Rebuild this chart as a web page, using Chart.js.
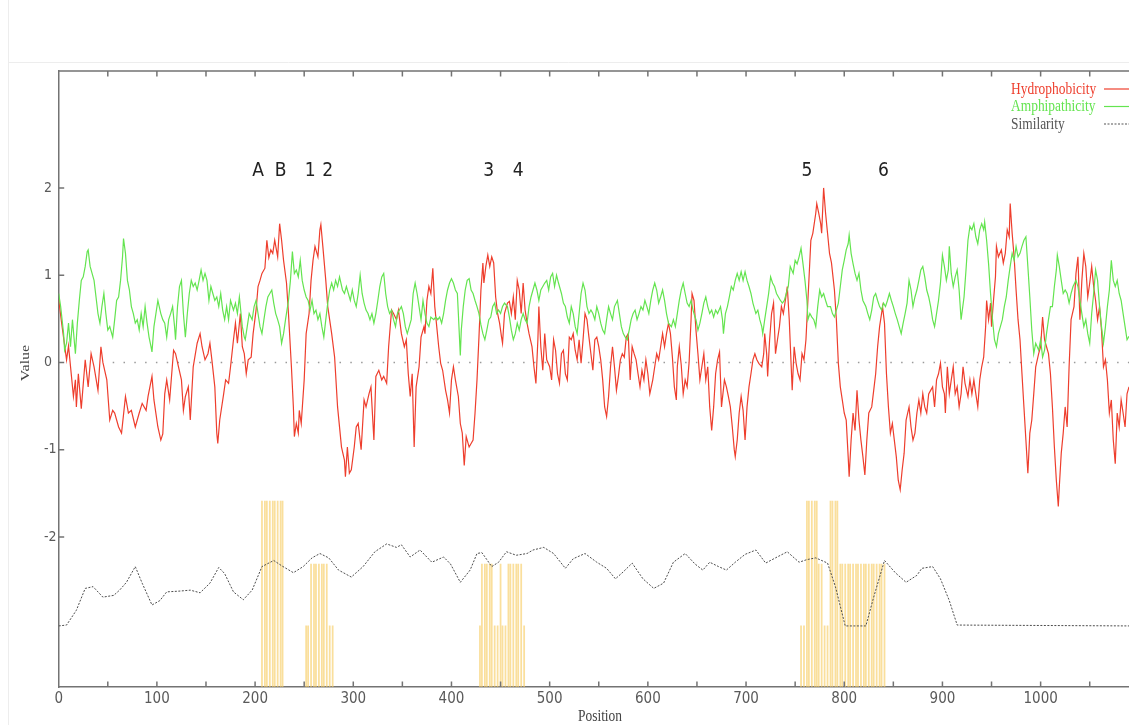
<!DOCTYPE html>
<html>
<head>
<meta charset="utf-8">
<title>Profil de séquence</title>
<script src="https://cdn.jsdelivr.net/npm/chart.js@4.4.0/dist/chart.umd.min.js"></script>
<style>
    html, body { margin: 0; padding: 0; background: #fff; }
    #wrap { position: relative; width: 1129px; height: 725px; }
</style>
</head>
<body>
<div id="wrap"><canvas id="profile-chart" width="1129" height="725"></canvas></div>
<script>
// Axes
const positionTicks = [0, 100, 200, 300, 400, 500, 600, 700, 800, 900, 1000];
const valueTicks = [-2, -1, 0, 1, 2];
const positionMax = 1090;
const valueMin = -3.72;
const valueMax = 3.34;

// Profil d'hydrophobicité [position, valeur]
const hydrophobicity = [
    [0,0.72],[3,0.45],[8,0.03],[10,0.19],[15,-0.39],[17,-0.2],[18,-0.51],[20,-0.13],[23,-0.53],[27,0.03],
    [30,-0.28],[33,0.1],[36,-0.05],[40,-0.32],[43,0.18],[45,0],[49,-0.2],[52,-0.66],[55,-0.55],[57,-0.58],
    [61,-0.74],[64,-0.81],[68,-0.39],[71,-0.58],[74,-0.55],[78,-0.74],[82,-0.58],[85,-0.47],[89,-0.55],[91,-0.39],
    [95,-0.16],[97,-0.43],[101,-0.74],[104,-0.89],[106,-0.82],[108,-0.36],[110,-0.2],[113,-0.43],[117,0.14],[119,0.1],
    [122,-0.05],[125,-0.2],[127,-0.55],[129,-0.39],[132,-0.28],[134,-0.66],[137,-0.05],[141,0.22],[144,0.33],[146,0.18],
    [149,0.03],[152,0.1],[154,0.22],[156,0.03],[159,-0.28],[161,-0.81],[162,-0.93],[164,-0.66],[168,-0.36],[170,-0.2],
    [173,-0.24],[175,-0.05],[178,0.26],[180,0.45],[182,0.22],[185,0.56],[187,0.18],[189,0.1],[191,-0.13],[193,0.03],
    [196,0.06],[198,0.33],[201,0.6],[203,0.87],[205,0.94],[207,1.02],[210,1.08],[212,1.4],[214,1.2],[216,1.29],
    [218,1.25],[220,1.4],[223,1.21],[225,1.59],[227,1.4],[229,1.17],[232,0.91],[234,0.56],[237,-0.05],[239,-0.51],
    [240,-0.85],[242,-0.7],[244,-0.81],[245,-0.55],[247,-0.7],[250,-0.2],[252,0.33],[255,0.56],[257,0.94],[259,1.17],
    [261,1.33],[262,1.29],[264,1.21],[266,1.52],[267,1.58],[269,1.33],[272,0.94],[274,0.64],[278,0.33],[281,0.06],
    [284,-0.51],[288,-0.97],[291,-1.12],[292,-1.31],[294,-0.97],[296,-1.27],[298,-1.23],[301,-0.97],[303,-0.74],[305,-0.7],
    [308,-1.0],[311,-0.43],[313,-0.51],[316,-0.36],[318,-0.28],[321,-0.89],[323,-0.16],[326,-0.09],[329,-0.2],[331,-0.16],
    [334,-0.24],[336,0.18],[339,0.6],[341,0.56],[344,0.49],[346,0.6],[349,0.33],[352,0.18],[354,0.26],[356,-0.13],
    [358,-0.39],[360,-0.13],[362,-0.97],[364,-0.28],[367,-0.05],[369,0.29],[372,0.41],[373,0.33],[375,0.71],[377,0.87],
    [379,0.79],[381,1.08],[383,0.64],[385,0.41],[387,0.18],[389,-0.01],[391,-0.09],[394,-0.32],[396,-0.43],[398,-0.58],
    [400,-0.2],[402,-0.05],[404,-0.2],[407,-0.39],[409,-0.7],[411,-0.81],[413,-1.18],[415,-0.85],[418,-0.97],[420,-0.93],
    [422,-0.89],[424,-0.58],[426,-0.2],[428,0.29],[430,0.83],[432,1.14],[433,0.91],[435,1.1],[437,1.23],[439,1.1],
    [441,1.21],[443,1.14],[445,0.75],[447,0.56],[449,0.45],[451,0.29],[452,0.22],[454,0.56],[457,0.68],[459,0.7],
    [461,0.56],[463,0.75],[465,0.49],[467,0.94],[469,0.83],[471,0.56],[473,0.91],[475,0.6],[477,0.45],[479,0.33],
    [482,0.18],[484,-0.05],[486,-0.24],[488,0.26],[489,0.64],[491,0.18],[493,-0.09],[495,0.33],[497,0.03],[500,-0.05],
    [502,-0.2],[504,0.26],[506,0.14],[508,-0.13],[510,-0.24],[512,0.1],[514,0.14],[516,-0.13],[518,-0.2],[520,0.29],
    [522,0.26],[524,0.33],[526,0.14],[528,0.03],[530,0.26],[532,-0.01],[534,0.26],[536,0.56],[538,0.49],[540,0.29],
    [542,0.1],[544,-0.09],[546,0.26],[548,0.29],[550,0.18],[552,0.03],[554,-0.2],[556,-0.51],[558,-0.62],[560,-0.39],
    [562,-0.05],[564,0.18],[566,-0.05],[568,-0.32],[570,-0.16],[572,0.03],[574,0.1],[576,0.06],[578,0.29],[580,0.33],
    [582,-0.2],[584,0.18],[586,0.1],[588,0.03],[590,-0.13],[592,-0.28],[594,-0.09],[596,-0.2],[598,0.03],[600,-0.13],
    [602,-0.36],[605,-0.2],[607,-0.05],[609,0.1],[611,0.03],[613,0.18],[615,0.33],[617,0.18],[619,0.33],[621,0.45],
    [623,0.33],[625,0.06],[627,-0.28],[629,-0.43],[630,-0.05],[632,0.18],[634,-0.03],[636,-0.36],[638,-0.2],[640,-0.28],
    [642,0],[644,0.49],[645,0.79],[647,0.71],[649,0.37],[651,0.1],[653,-0.2],[655,-0.05],[657,0.1],[659,-0.2],
    [661,-0.05],[663,-0.51],[665,-0.78],[667,-0.51],[669,-0.13],[671,0.03],[673,0.12],[675,-0.51],[678,-0.2],[680,-0.28],
    [682,-0.39],[684,-0.51],[686,-0.74],[688,-1.0],[689,-1.08],[691,-0.89],[693,-0.58],[695,-0.39],[697,-0.55],[699,-0.89],
    [701,-0.51],[703,-0.28],[705,-0.13],[707,0.03],[709,0.1],[711,0.03],[713,-0.01],[716,-0.05],[718,0.1],[719,0.33],
    [721,0.1],[722,-0.16],[724,0.26],[726,0.56],[728,0.68],[730,0.1],[732,0.26],[734,0.41],[736,0.64],[738,0.56],
    [740,0.71],[742,0.87],[744,0.49],[746,-0.05],[747,-0.32],[749,0.18],[751,-0.01],[753,-0.13],[755,-0.2],[757,0.1],
    [759,0.03],[761,0.26],[762,0.49],[764,0.94],[766,1.4],[768,1.48],[771,1.71],[772,1.82],[774,1.71],[776,1.59],
    [777,1.48],[779,2.0],[781,1.71],[783,1.48],[785,1.25],[787,1.14],[790,0.83],[792,0.49],[794,-0.01],[796,-0.28],
    [798,-0.43],[800,-0.58],[802,-0.66],[804,-1.08],[805,-1.31],[807,-0.89],[809,-0.58],[811,-0.78],[813,-0.32],[815,-0.66],
    [817,-0.89],[819,-1.08],[821,-1.29],[823,-0.89],[825,-0.58],[828,-0.51],[830,-0.32],[832,-0.13],[834,0.18],[836,0.41],
    [838,0.56],[839,0.64],[841,0.45],[843,-0.13],[845,-0.51],[847,-0.81],[849,-0.7],[851,-0.89],[853,-1.08],[855,-1.35],
    [857,-1.46],[859,-1.23],[861,-1.04],[863,-0.66],[866,-0.51],[868,-0.74],[870,-0.89],[872,-0.81],[874,-0.58],[876,-0.43],
    [878,-0.58],[880,-0.36],[882,-0.51],[884,-0.58],[886,-0.36],[888,-0.32],[890,-0.28],[892,-0.51],[894,-0.2],[896,-0.13],
    [898,-0.01],[900,-0.28],[902,-0.36],[903,-0.58],[905,-0.05],[907,-0.36],[909,-0.2],[911,-0.05],[913,-0.36],[915,-0.28],
    [917,-0.51],[919,-0.36],[921,-0.05],[923,-0.24],[926,-0.39],[928,-0.2],[930,-0.36],[932,-0.2],[934,-0.36],[936,-0.51],
    [938,-0.2],[940,-0.05],[942,0.06],[944,0.41],[945,0.71],[947,0.49],[949,0.68],[950,0.41],[952,0.71],[954,0.98],
    [955,1.33],[957,1.21],[960,1.29],[962,1.14],[964,1.25],[966,1.52],[968,1.44],[969,1.82],[971,1.48],[973,1.21],
    [975,0.83],[977,0.49],[979,0.26],[981,-0.13],[983,-0.51],[985,-0.89],[987,-1.27],[989,-0.81],[991,-0.66],[993,-0.36],
    [995,-0.05],[998,0.1],[1000,0.18],[1002,0.52],[1004,0.26],[1006,0.18],[1008,0.1],[1010,-0.13],[1012,-0.51],[1014,-0.97],
    [1016,-1.35],[1018,-1.65],[1019,-1.43],[1021,-1.04],[1023,-0.81],[1025,-0.51],[1027,-0.74],[1029,-0.05],[1031,0.49],[1034,0.64],
    [1036,1.02],[1038,1.21],[1040,0.49],[1042,0.94],[1044,1.25],[1046,1.1],[1048,0.75],[1050,0.91],[1052,1.1],[1054,0.87],
    [1056,0.71],[1058,0.49],[1060,0.64],[1062,0.37],[1064,-0.05],[1066,0.03],[1068,-0.2],[1070,-0.58],[1072,-0.43],[1074,-0.89],
    [1076,-1.16],[1078,-0.58],[1080,-0.74],[1082,-0.43],[1084,-0.58],[1086,-0.74],[1088,-0.36],[1090,-0.28]
];

// Profil d'amphipathicité [position, valeur]
const amphipathicity = [
    [0,0.79],[2,0.64],[5,0.33],[6,0.14],[8,0.22],[10,0.45],[12,0.18],[14,0.49],[17,0.1],[19,0.45],
    [21,0.71],[23,0.94],[25,0.98],[27,1.1],[29,1.27],[30,1.29],[32,1.1],[34,1.02],[36,0.94],[38,0.75],
    [40,0.56],[42,0.45],[44,0.64],[46,0.79],[48,0.56],[50,0.37],[52,0.41],[55,0.29],[57,0.49],[59,0.71],
    [61,0.75],[63,0.94],[65,1.21],[66,1.42],[68,1.25],[70,0.94],[72,0.83],[74,0.64],[76,0.56],[78,0.45],
    [80,0.49],[82,0.37],[84,0.56],[86,0.41],[88,0.64],[90,0.45],[92,0.29],[94,0.18],[95,0.12],[97,0.41],
    [99,0.56],[101,0.71],[104,0.56],[106,0.49],[108,0.45],[110,0.29],[112,0.49],[114,0.56],[116,0.64],[118,0.41],
    [119,0.26],[121,0.64],[123,0.87],[125,0.94],[127,0.56],[129,0.29],[131,0.56],[133,0.79],[135,0.94],[137,0.87],
    [139,0.91],[141,0.83],[143,0.94],[145,1.06],[147,0.94],[149,1.02],[151,0.94],[153,0.71],[155,0.87],[157,0.79],
    [159,0.71],[161,0.75],[163,0.64],[165,0.79],[167,0.6],[169,0.49],[171,0.64],[173,0.49],[175,0.71],[178,0.6],
    [180,0.68],[182,0.56],[184,0.75],[185,0.64],[187,0.41],[189,0.29],[190,0.26],[192,0.41],[194,0.56],[197,0.49],
    [199,0.64],[201,0.71],[203,0.56],[205,0.41],[207,0.33],[209,0.49],[211,0.64],[213,0.75],[215,0.79],[217,0.83],
    [219,0.68],[221,0.56],[223,0.49],[225,0.41],[227,0.22],[229,0.33],[231,0.49],[234,0.71],[236,0.94],[238,1.27],
    [240,1.02],[242,1.06],[244,0.98],[246,1.17],[248,0.94],[250,0.83],[252,0.75],[254,0.71],[256,0.6],[258,0.71],
    [260,0.56],[262,0.6],[264,0.49],[266,0.56],[268,0.41],[270,0.29],[272,0.49],[274,0.68],[276,0.83],[278,0.91],
    [280,0.83],[282,0.94],[284,0.87],[286,0.98],[289,0.83],[291,0.79],[293,0.87],[295,0.79],[297,0.71],[299,0.83],
    [301,0.71],[303,0.64],[305,0.79],[307,1.0],[309,0.79],[311,0.68],[313,0.6],[315,0.56],[317,0.49],[319,0.56],
    [321,0.45],[323,0.56],[325,0.71],[327,0.87],[329,0.98],[331,1.02],[333,0.79],[335,0.64],[337,0.56],[339,0.6],
    [341,0.49],[343,0.41],[345,0.56],[347,0.6],[349,0.64],[351,0.56],[353,0.41],[355,0.33],[357,0.41],[359,0.49],
    [361,0.79],[363,0.91],[365,0.79],[367,0.64],[369,0.49],[371,0.71],[373,0.56],[375,0.45],[377,0.41],[379,0.52],
    [382,0.49],[384,0.52],[386,0.49],[388,0.52],[390,0.45],[392,0.56],[394,0.71],[396,0.83],[398,0.91],[400,0.96],
    [402,0.91],[404,0.83],[406,0.79],[407,0.56],[409,0.08],[410,0.37],[412,0.64],[414,0.83],[416,0.94],[418,0.96],
    [420,0.83],[422,0.79],[424,0.71],[426,0.64],[428,0.56],[430,0.43],[432,0.33],[434,0.26],[436,0.37],[438,0.49],
    [440,0.52],[442,0.64],[444,0.68],[446,0.56],[448,0.6],[450,0.56],[452,0.64],[454,0.68],[457,0.64],[459,0.52],
    [461,0.37],[463,0.26],[465,0.33],[467,0.45],[469,0.37],[471,0.49],[473,0.56],[475,0.49],[477,0.45],[479,0.64],
    [481,0.75],[483,0.83],[485,0.91],[487,0.83],[489,0.71],[491,0.83],[493,0.87],[495,0.91],[497,0.94],[499,0.83],
    [501,0.98],[503,1.02],[505,0.87],[507,1.0],[509,0.91],[512,0.79],[514,0.68],[516,0.64],[518,0.52],[520,0.45],
    [522,0.64],[524,0.56],[526,0.41],[528,0.33],[530,0.56],[532,0.79],[534,0.91],[536,0.83],[538,0.64],[540,0.56],
    [542,0.6],[544,0.56],[546,0.49],[548,0.64],[550,0.56],[552,0.45],[554,0.37],[556,0.33],[558,0.49],[560,0.64],
    [562,0.56],[564,0.49],[566,0.64],[569,0.71],[571,0.56],[573,0.41],[575,0.33],[577,0.29],[579,0.26],[581,0.37],
    [583,0.49],[585,0.56],[587,0.6],[589,0.49],[591,0.56],[593,0.64],[595,0.6],[597,0.71],[599,0.64],[601,0.56],
    [603,0.71],[605,0.83],[607,0.91],[609,0.83],[611,0.68],[613,0.75],[615,0.83],[617,0.71],[619,0.56],[621,0.45],
    [624,0.41],[626,0.49],[628,0.41],[630,0.56],[632,0.71],[634,0.83],[636,0.91],[638,0.79],[640,0.68],[642,0.64],
    [644,0.71],[646,0.6],[648,0.52],[649,0.49],[651,0.37],[653,0.45],[655,0.56],[657,0.68],[659,0.75],[661,0.64],
    [663,0.56],[665,0.6],[667,0.52],[669,0.6],[671,0.56],[674,0.64],[676,0.49],[677,0.33],[679,0.56],[681,0.64],
    [683,0.75],[685,0.87],[687,0.83],[689,0.94],[691,1.02],[693,0.94],[695,1.04],[697,0.94],[699,1.04],[701,0.94],
    [703,0.87],[705,0.79],[707,0.68],[710,0.56],[712,0.6],[714,0.49],[716,0.41],[717,0.33],[719,0.49],[721,0.64],
    [723,0.79],[725,0.98],[727,0.91],[729,0.87],[731,0.79],[733,0.75],[735,0.71],[737,0.68],[739,0.71],[741,0.79],
    [743,0.87],[745,1.1],[748,1.02],[750,1.17],[752,1.13],[754,1.21],[756,1.31],[758,1.13],[760,0.94],[762,0.71],
    [763,0.49],[765,0.56],[767,0.52],[769,0.49],[771,0.41],[773,0.64],[775,0.83],[777,0.75],[779,0.79],[781,0.71],
    [783,0.64],[786,0.64],[788,0.56],[790,0.52],[792,0.6],[794,0.68],[796,0.87],[798,1.06],[800,1.17],[802,1.29],
    [804,1.36],[805,1.46],[807,1.25],[809,1.13],[811,1.02],[813,0.94],[815,1.02],[817,0.83],[819,0.71],[822,0.64],
    [824,0.56],[826,0.49],[828,0.6],[830,0.75],[832,0.79],[834,0.71],[836,0.64],[838,0.6],[840,0.68],[842,0.64],
    [844,0.71],[846,0.79],[848,0.71],[850,0.64],[852,0.56],[854,0.49],[856,0.41],[858,0.33],[860,0.45],[862,0.56],
    [864,0.68],[866,0.94],[868,0.83],[870,0.64],[872,0.75],[874,0.83],[876,0.94],[878,1.06],[880,1.1],[882,0.98],
    [884,0.83],[886,0.75],[888,0.64],[890,0.49],[892,0.41],[894,0.56],[896,0.71],[898,0.91],[900,1.23],[902,1.1],
    [904,0.94],[906,1.06],[907,1.33],[909,1.02],[911,0.87],[913,0.98],[915,1.06],[917,0.83],[919,0.49],[922,0.75],
    [924,1.06],[926,1.4],[928,1.56],[930,1.52],[932,1.59],[934,1.44],[936,1.36],[938,1.52],[940,1.59],[942,1.52],
    [943,1.61],[945,1.4],[947,1.13],[949,0.79],[951,0.49],[953,0.26],[955,0.18],[957,0.33],[959,0.41],[961,0.49],
    [963,0.64],[965,0.75],[967,0.94],[969,1.1],[971,1.25],[973,1.17],[975,1.33],[977,1.21],[979,1.25],[981,1.33],
    [983,1.4],[985,1.44],[987,1.1],[989,0.75],[991,0.37],[993,0.1],[995,0.22],[998,0.14],[1000,0.26],[1002,0.06],
    [1004,0.14],[1006,0.33],[1008,0.49],[1010,0.64],[1012,0.64],[1014,0.87],[1016,1.06],[1017,1.23],[1019,1.1],[1021,0.94],
    [1023,0.79],[1025,0.83],[1027,0.79],[1029,0.68],[1031,0.79],[1033,0.87],[1036,0.94],[1038,0.87],[1040,0.71],[1042,0.56],
    [1044,0.41],[1046,0.49],[1048,0.33],[1050,0.22],[1052,0.56],[1054,0.79],[1056,1.06],[1058,0.94],[1060,0.64],[1062,0.41],
    [1064,0.22],[1066,0.41],[1068,0.64],[1070,0.83],[1072,1.17],[1074,0.94],[1076,0.87],[1078,0.94],[1080,0.79],[1082,0.71],
    [1084,0.56],[1086,0.41],[1088,0.26],[1090,0.3]
];

// Similarité (tracée sur la même échelle, en bas du graphique)
const similarity = [
    [0,-3.02],[8,-3.01],[18,-2.84],[27,-2.59],[35,-2.57],[45,-2.69],[56,-2.67],[62,-2.61],[69,-2.52],[78,-2.34],
    [85,-2.53],[95,-2.78],[103,-2.73],[110,-2.63],[124,-2.62],[134,-2.61],[144,-2.64],[154,-2.53],[163,-2.35],[169,-2.42],
    [178,-2.63],[188,-2.72],[197,-2.61],[207,-2.34],[219,-2.27],[227,-2.33],[239,-2.41],[249,-2.34],[258,-2.24],[266,-2.19],
    [275,-2.24],[285,-2.38],[298,-2.46],[310,-2.34],[322,-2.17],[334,-2.08],[344,-2.12],[349,-2.09],[358,-2.23],[368,-2.15],
    [380,-2.29],[392,-2.23],[399,-2.31],[409,-2.52],[419,-2.38],[426,-2.19],[431,-2.18],[441,-2.34],[448,-2.29],[456,-2.17],
    [466,-2.21],[477,-2.19],[483,-2.15],[494,-2.12],[504,-2.19],[516,-2.36],[524,-2.25],[536,-2.19],[548,-2.29],[558,-2.36],
    [567,-2.48],[575,-2.4],[584,-2.3],[595,-2.48],[606,-2.59],[616,-2.53],[626,-2.29],[638,-2.19],[648,-2.31],[656,-2.38],
    [663,-2.29],[672,-2.34],[680,-2.38],[689,-2.29],[699,-2.2],[710,-2.15],[720,-2.3],[730,-2.24],[742,-2.17],[754,-2.29],
    [762,-2.26],[771,-2.24],[783,-2.3],[791,-2.57],[801,-3.02],[822,-3.02],[830,-2.69],[841,-2.27],[852,-2.41],[863,-2.52],
    [874,-2.44],[879,-2.36],[890,-2.34],[898,-2.48],[907,-2.73],[915,-3.01],[1090,-3.02]
];

// Segments conservés (impulsions jaunes) et leur hauteur
const impulseTall = [207, 210, 212, 215, 218, 220, 223, 226, 228, 762, 764, 767, 770, 772, 786, 788, 791, 793];
const impulseMid = [257, 260, 262, 265, 268, 270, 273, 431, 434, 436, 439, 441, 450, 458, 460, 463, 466, 468, 471,
    774, 777, 796, 798, 801, 804, 806, 809, 812, 814, 817, 820, 822, 825, 828, 830, 833, 836, 838, 841];
const impulseLow = [252, 254, 276, 279, 429, 444, 447, 452, 455, 474, 756, 759, 780, 783];
const levelTall = -1.59;
const levelMid = -2.31;
const levelLow = -3.02;

// Repères de sites
const siteLabels = ['A', 'B', '1', '2', '3', '4', '5', '6'];
const sitePositions = [203, 226, 256, 274, 438, 468, 762, 840];
const siteLevel = 2.14;

// Légende
const legendLabels = ['Hydrophobicity', 'Amphipathicity', 'Similarity'];

const RED = 'rgb(238, 62, 45)';
const GREEN = 'rgb(100, 228, 80)';
const GREY = '#555';
const AXIS = '#737373';
const SANS_NARROW = "'Liberation Sans Narrow', 'DejaVu Sans Condensed', sans-serif";
const SERIF = "'Liberation Serif', 'DejaVu Serif', serif";

function toPoints(pairs) {
    return pairs.map(p => ({ x: p[0], y: p[1] }));
}

// Texte légèrement resserré horizontalement
function narrowText(ctx, text, x, y, align, squeeze) {
    ctx.save();
    ctx.translate(x, y);
    ctx.scale(squeeze, 1);
    ctx.textAlign = align;
    ctx.fillText(text, 0, 0);
    ctx.restore();
}

// Cadre, graduations intérieures, ligne du zéro
const framePlugin = {
    id: 'frame',
    beforeDraw(chart) {
        const ctx = chart.ctx;
        ctx.save();
        ctx.strokeStyle = '#ededed';
        ctx.lineWidth = 1;
        ctx.beginPath();
        ctx.moveTo(8.5, 0);
        ctx.lineTo(8.5, chart.height);
        ctx.moveTo(8.5, 62.5);
        ctx.lineTo(chart.width, 62.5);
        ctx.stroke();
        ctx.restore();
    },
    beforeDatasetsDraw(chart) {
        const { ctx, chartArea, scales } = chart;
        const y0 = scales.y.getPixelForValue(0);
        ctx.save();
        ctx.strokeStyle = '#9a9a9a';
        ctx.lineWidth = 1.5;
        ctx.setLineDash([1.5, 9.3]);
        ctx.beginPath();
        ctx.moveTo(scales.x.getPixelForValue(55), y0);
        ctx.lineTo(chartArea.right, y0);
        ctx.stroke();
        ctx.restore();
    },
    afterDatasetsDraw(chart) {
        const { ctx, chartArea, scales } = chart;
        const tick = 5.5;
        ctx.save();
        ctx.strokeStyle = AXIS;
        ctx.lineWidth = 1.5;
        ctx.beginPath();
        // bord supérieur
        ctx.moveTo(chartArea.left, chartArea.top);
        ctx.lineTo(chartArea.right, chartArea.top);
        // graduations haut et bas tous les 50
        for (let p = 50; p < positionMax; p += 50) {
            const x = scales.x.getPixelForValue(p);
            ctx.moveTo(x, chartArea.top);
            ctx.lineTo(x, chartArea.top + tick);
            ctx.moveTo(x, chartArea.bottom);
            ctx.lineTo(x, chartArea.bottom - tick);
        }
        // graduations gauche
        valueTicks.forEach(v => {
            const y = scales.y.getPixelForValue(v);
            ctx.moveTo(chartArea.left, y);
            ctx.lineTo(chartArea.left + tick, y);
        });
        ctx.stroke();
        ctx.restore();

        // Repères A, B, 1 ... 6
        ctx.save();
        ctx.fillStyle = '#222';
        ctx.font = '19px ' + SANS_NARROW;
        ctx.textBaseline = 'alphabetic';
        siteLabels.forEach((label, i) => {
            narrowText(ctx, label, scales.x.getPixelForValue(sitePositions[i]),
                scales.y.getPixelForValue(siteLevel), 'center', 1);
        });
        ctx.restore();

        // Légende en haut à droite
        const legendColors = [RED, GREEN, GREY];
        const legendY = [93.5, 111, 128.5];
        ctx.save();
        ctx.font = '16px ' + SERIF;
        ctx.textBaseline = 'alphabetic';
        legendLabels.forEach((label, i) => {
            ctx.fillStyle = legendColors[i];
            narrowText(ctx, label, 1011, legendY[i], 'left', 0.84);
            ctx.strokeStyle = legendColors[i];
            ctx.lineWidth = 1.2;
            ctx.setLineDash(i === 2 ? [2, 1.5] : []);
            ctx.beginPath();
            ctx.moveTo(1104, legendY[i] - 4.5);
            ctx.lineTo(chart.width, legendY[i] - 4.5);
            ctx.stroke();
        });
        ctx.restore();

        // Titres des axes
        ctx.save();
        ctx.fillStyle = '#444';
        ctx.font = '16px ' + SERIF;
        ctx.textBaseline = 'alphabetic';
        narrowText(ctx, 'Position', 600, 721, 'center', 0.84);
        ctx.translate(29, 363);
        ctx.rotate(-Math.PI / 2);
        ctx.scale(1, 0.84);
        ctx.textAlign = 'center';
        ctx.fillText('Value', 0, 0);
        ctx.restore();
    }
};

// Création du graphique
document.addEventListener('DOMContentLoaded', () => {
    const impulses = [
        ...impulseTall.map(x => ({ x: x, y: levelTall })),
        ...impulseMid.map(x => ({ x: x, y: levelMid })),
        ...impulseLow.map(x => ({ x: x, y: levelLow }))
    ];

    const ctx = document.getElementById('profile-chart').getContext('2d');
    new Chart(ctx, {
        type: 'line',
        data: {
            datasets: [
                {
                    label: 'Amphipathicity',
                    data: toPoints(amphipathicity),
                    borderColor: GREEN,
                    borderWidth: 1.2,
                    pointRadius: 0,
                    tension: 0,
                    order: 0
                },
                {
                    label: 'Hydrophobicity',
                    data: toPoints(hydrophobicity),
                    borderColor: RED,
                    borderWidth: 1.2,
                    pointRadius: 0,
                    tension: 0,
                    order: 1
                },
                {
                    label: 'Similarity',
                    data: toPoints(similarity),
                    borderColor: '#4d4d4d',
                    borderWidth: 1,
                    borderDash: [2, 1.5],
                    pointRadius: 0,
                    tension: 0,
                    order: 2
                },
                {
                    type: 'bar',
                    label: 'Conserved',
                    data: impulses,
                    backgroundColor: 'rgba(247, 203, 95, 0.62)',
                    borderWidth: 0,
                    barThickness: 1.1,
                    grouped: false,
                    base: valueMin,
                    order: 3
                }
            ]
        },
        options: {
            responsive: false,
            devicePixelRatio: 1,
            animation: false,
            layout: {
                padding: { left: 44, top: 71, right: 0, bottom: 0 }
            },
            plugins: {
                legend: { display: false },
                tooltip: { enabled: false }
            },
            scales: {
                x: {
                    type: 'linear',
                    min: 0,
                    max: positionMax,
                    offset: false,
                    afterBuildTicks: scale => {
                        scale.ticks = positionTicks.map(v => ({ value: v }));
                    },
                    afterFit: scale => {
                        scale.height = 38;
                    },
                    ticks: {
                        color: '#5a5a5a',
                        padding: 3,
                        maxRotation: 0,
                        font: { family: SANS_NARROW, size: 15 },
                        callback: value => String(value)
                    },
                    grid: { display: false, drawTicks: false },
                    border: { display: true, color: AXIS, width: 1.5 }
                },
                y: {
                    type: 'linear',
                    min: valueMin,
                    max: valueMax,
                    afterBuildTicks: scale => {
                        scale.ticks = valueTicks.map(v => ({ value: v }));
                    },
                    afterFit: scale => {
                        scale.width = 14.7;
                    },
                    ticks: {
                        color: '#5a5a5a',
                        crossAlign: 'far',
                        font: { family: SANS_NARROW, size: 14 },
                        callback: value => String(value)
                    },
                    grid: { display: false, drawTicks: false },
                    border: { display: true, color: AXIS, width: 1.5 }
                }
            }
        },
        plugins: [framePlugin]
    });
});
</script>
</body>
</html>
